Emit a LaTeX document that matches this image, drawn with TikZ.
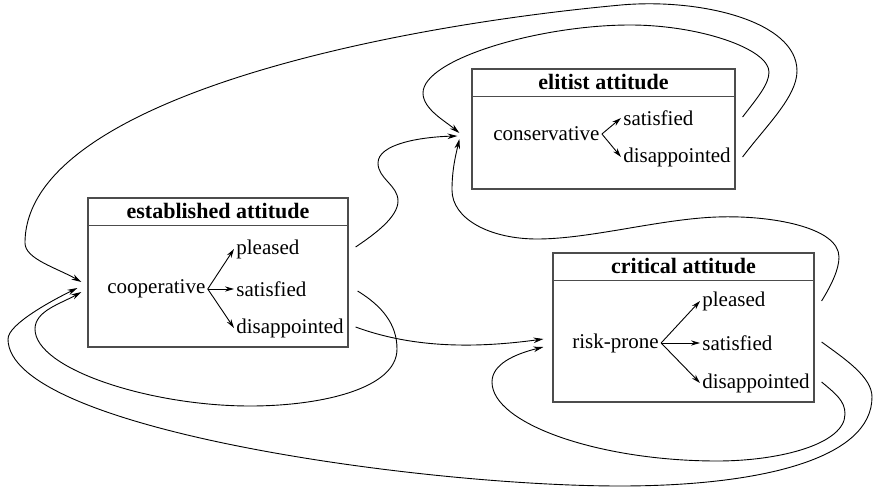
\documentclass[tikz,border=0pt]{standalone}
\usepackage{fontspec}
\setmainfont{Liberation Serif}
\usetikzlibrary{arrows.meta,positioning,calc}

\begin{document}
\begin{tikzpicture}[x=0.5pt,y=0.5pt,
  attbox/.style={draw=black!70, line width=0.6pt, rectangle, inner sep=0pt},
  headtext/.style={font=\fontsize{11}{13}\selectfont\bfseries, inner sep=0pt, minimum height=13.5pt},
  lbl/.style={font=\fontsize{10.5}{12}\selectfont, inner sep=1pt, anchor=west},
  pick/.style={-{Stealth[length=4.5pt,width=2.6pt]}, line width=0.45pt},
  link/.style={-{Stealth[length=5pt,width=2.8pt]}, line width=0.45pt}]
  \useasboundingbox (0,0) rectangle (874,489);

  % Boxes
  \node[attbox, minimum width=130pt, minimum height=74.5pt] (est) at (218,216.5) {};
  \node[headtext, below=0pt of est.north] (esttitle) {established attitude};
  \draw[draw=black!70, line width=0.6pt] (est.west |- esttitle.south) -- (est.east |- esttitle.south);

  \node[attbox, minimum width=131.5pt, minimum height=60pt] (eli) at (603.5,360) {};
  \node[headtext, below=0pt of eli.north] (elititle) {elitist attitude};
  \draw[draw=black!70, line width=0.6pt] (eli.west |- elititle.south) -- (eli.east |- elititle.south);

  \node[attbox, minimum width=130.5pt, minimum height=74.5pt] (crit) at (683.5,161.5) {};
  \node[headtext, below=0pt of crit.north] (crittitle) {critical attitude};
  \draw[draw=black!70, line width=0.6pt] (crit.west |- crittitle.south) -- (crit.east |- crittitle.south);

  % Strategies and outcomes
  \node[lbl] (coop) at (105,200) {cooperative};
  \node[lbl] (estple) at (234,240) {pleased};
  \node[lbl] (estsat) at (234,200) {satisfied};
  \node[lbl] (estdis) at (234,161) {disappointed};
  \draw[pick] (coop.east) -- (estple.west);
  \draw[pick] (coop.east) -- (estsat.west);
  \draw[pick] (coop.east) -- (estdis.west);

  \node[lbl] (cons) at (491,355) {conservative};
  \node[lbl] (elisat) at (621,371) {satisfied};
  \node[lbl] (elidis) at (621,332) {disappointed};
  \draw[pick] (cons.east) -- (elisat.west);
  \draw[pick] (cons.east) -- (elidis.west);

  \node[lbl] (risk) at (570,146) {risk-prone};
  \node[lbl] (criple) at (700,188) {pleased};
  \node[lbl] (crisat) at (700,146) {satisfied};
  \node[lbl] (cridis) at (700,106) {disappointed};
  \draw[pick] (risk.east) -- (criple.west);
  \draw[pick] (risk.east) -- (crisat.west);
  \draw[pick] (risk.east) -- (cridis.west);

  % Transitions from established
  \draw[link] ($(estple -| est.east)+(7,2)$) .. controls (375,255) and (398,272) .. (398,288)
    .. controls (398,304) and (378,310) .. (378,326)
    .. controls (378,345) and (420,352) .. ($(eli.west |- cons)+(-14,-2)$);
  \draw[link] ($(estsat -| est.east)+(9,-2)$) .. controls (382,183) and (397,165) .. (397,140)
    .. controls (397,100) and (320,83) .. (250,83)
    .. controls (150,83) and (35,120) .. (35,160)
    .. controls (35,178) and (60,185) .. ($(est.west |- coop)+(-6,-3)$);
  \draw[link] ($(estdis -| est.east)+(7,1)$) .. controls (410,142) and (470,140) .. ($(crit.west |- risk)+(-9,4)$);

  % Transitions from elitist
  \draw[link] ($(elisat -| eli.east)+(7,1)$) .. controls (758,392) and (769,405) .. (769,417)
    .. controls (769,440) and (700,464) .. (630,464)
    .. controls (540,464) and (423,430) .. (423,396)
    .. controls (423,380) and (445,368) .. ($(eli.west |- cons)+(-12,1)$);
  \draw[link] ($(elidis -| eli.east)+(7,0)$) .. controls (765,362) and (797,392) .. (797,418)
    .. controls (797,468) and (700,491) .. (621,484)
    .. controls (371,461) and (25,386) .. (25,246)
    .. controls (25,230) and (57,221) .. ($(est.west |- coop)+(-6,7)$);

  % Transitions from critical
  \draw[link] ($(criple -| crit.east)+(7,0)$) .. controls (832,205) and (839,220) .. (839,232)
    .. controls (839,262) and (770,274) .. (717,272)
    .. controls (660,270) and (590,250) .. (537,250)
    .. controls (490,250) and (452,270) .. (452,299)
    .. controls (452,320) and (456,335) .. ($(eli.west |- cons)+(-12,-5)$);
  \draw[link] ($(crisat -| crit.east)+(7,1)$) .. controls (845,130) and (872,112) .. (872,92)
    .. controls (872,30) and (760,3) .. (620,3)
    .. controls (420,3) and (8,60) .. (8,150)
    .. controls (8,165) and (53,189) .. ($(est.west |- coop)+(-10,1)$);
  \draw[link] ($(cridis -| crit.east)+(7,1)$) .. controls (836,95) and (845,88) .. (845,75)
    .. controls (845,45) and (780,28) .. (717,28)
    .. controls (600,28) and (492,65) .. (492,107)
    .. controls (492,125) and (515,135) .. ($(crit.west |- risk)+(-9,-4)$);
\end{tikzpicture}
\end{document}
